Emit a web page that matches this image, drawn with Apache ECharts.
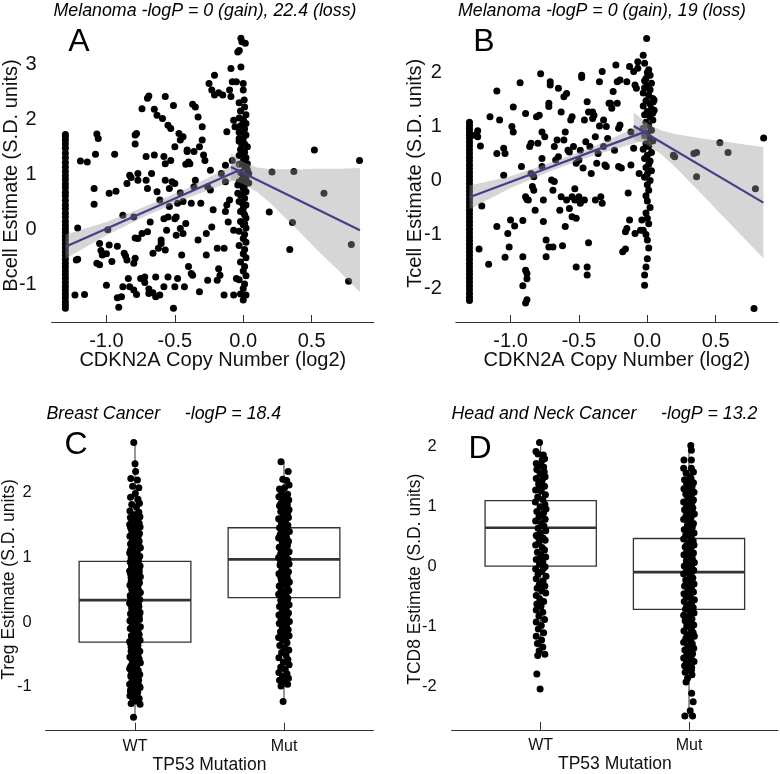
<!DOCTYPE html>
<html><head><meta charset="utf-8">
<script src="https://cdn.jsdelivr.net/npm/echarts@6/dist/echarts.min.js"></script>
<style>html,body{margin:0;padding:0;background:#fff}#c{width:780px;height:774px}</style>
</head><body><div id="c"></div>
<script>
// ---------------- DATA ----------------
const titleA = 'Melanoma -logP = 0 (gain), 22.4 (loss)';
const titleB = 'Melanoma -logP = 0 (gain), 19 (loss)';
const titleC = 'Breast Cancer     -logP = 18.4';
const titleD = 'Head and Neck Cancer     -logP = 13.2';
const panelLetters = ['A', 'B', 'C', 'D'];
const copyNumberTicks = [-1.0, -0.5, 0.0, 0.5];
const bcellTicks = [-1, 0, 1, 2, 3];
const tcellTicks = [-2, -1, 0, 1, 2];
const tregTicks = [-1, 0, 1, 2];
const tcd8Ticks = [-2, -1, 0, 1, 2];
const mutationCategories = ['WT', 'Mut'];

// Panel A: B cell vs CDKN2A copy number  [x, y]
const bcellLossColumnY = [1.72,1.68,1.62,1.55,1.47,1.38,1.30,1.21,1.13,1.05,0.97,0.90,0.82,0.75,0.67,0.60,0.52,0.44,0.37,0.29,0.22,0.14,0.07,0.00,-0.06,-0.13,-0.20,-0.27,-0.34,-0.41,-0.48,-0.55,-0.62,-0.69,-0.76,-0.83,-0.90,-0.97,-1.04,-1.11,-1.18,-1.25,-1.32,-1.38,-1.44];
const bcellScatter = [[-1.19,1.24],[-1.14,1.22],[-1.21,0.02],[-1.22,-0.56],[-1.21,-0.55],[-1.23,-1.20],[-1.16,-1.19],[-1.09,0.45],[-1.08,1.36],[-1.09,0.74],[-1.07,1.73],[-1.06,1.65],[-1.05,-0.26],[-1.04,-0.39],[-1.07,-0.62],[-1.05,-0.65],[-1.03,-0.47],[-1.00,-0.45],[-1.00,-1.02],[-0.99,-0.01],[-0.98,0.65],[-0.98,-0.29],[-0.96,-0.59],[-0.94,1.36],[-0.93,0.69],[-0.92,-0.31],[-0.92,-1.25],[-0.91,-1.42],[-0.89,-1.23],[-0.88,-1.05],[-0.88,0.25],[-0.87,-0.44],[-0.86,-0.49],[-0.85,0.83],[-0.85,-0.56],[-0.84,-0.90],[-0.83,-1.05],[-0.83,0.98],[-0.82,0.94],[-0.80,-1.11],[-0.80,0.22],[-0.80,-0.62],[-0.79,-0.53],[-0.79,1.71],[-0.78,1.74],[-0.79,-0.16],[-0.79,1.55],[-0.78,-1.19],[-0.77,1.01],[-0.77,0.89],[-0.77,-0.17],[-0.75,-0.90],[-0.74,2.19],[-0.74,-0.08],[-0.72,-0.97],[-0.72,-0.87],[-0.71,0.89],[-0.70,0.74],[-0.71,1.32],[-0.70,2.38],[-0.69,2.42],[-0.70,-0.05],[-0.69,-1.09],[-0.69,-1.17],[-0.68,0.13],[-0.67,1.01],[-0.66,-0.44],[-0.66,-1.16],[-0.65,2.18],[-0.65,1.35],[-0.64,-0.87],[-0.64,-1.23],[-0.63,2.07],[-0.63,0.68],[-0.62,-0.35],[-0.61,-1.20],[-0.61,0.53],[-0.60,-0.26],[-0.60,-0.20],[-0.59,2.01],[-0.58,0.19],[-0.58,-1.05],[-0.58,1.32],[-0.57,1.19],[-0.57,2.41],[-0.57,-0.38],[-0.57,0.89],[-0.56,-0.02],[-0.55,-0.87],[-0.55,0.22],[-0.55,1.89],[-0.54,0.74],[-0.54,0.41],[-0.53,1.83],[-0.53,1.25],[-0.52,0.86],[-0.51,-1.44],[-0.51,2.25],[-0.50,0.83],[-0.50,0.19],[-0.50,1.50],[-0.50,-1.05],[-0.49,-0.11],[-0.49,0.22],[-0.48,-0.90],[-0.48,0.47],[-0.47,1.74],[-0.46,1.62],[-0.46,0.01],[-0.46,0.66],[-0.45,-0.47],[-0.44,0.50],[-0.44,-0.08],[-0.44,1.68],[-0.43,-1.05],[-0.42,1.18],[-0.42,0.10],[-0.41,1.44],[-0.41,1.41],[-0.40,-0.68],[-0.40,1.22],[-0.39,1.19],[-0.38,-0.81],[-0.38,0.47],[-0.37,2.27],[-0.37,-0.84],[-0.36,1.41],[-0.36,0.77],[-0.35,2.22],[-0.35,0.89],[-0.33,2.04],[-0.33,-0.20],[-0.32,1.50],[-0.32,-1.14],[-0.31,0.47],[-0.30,1.62],[-0.30,1.86],[-0.29,1.35],[-0.28,1.25],[-0.27,-0.08],[-0.27,-0.47],[-0.26,-0.93],[-0.26,0.77],[-0.25,2.65],[-0.24,0.71],[-0.24,1.07],[-0.23,2.53],[-0.23,0.04],[-0.22,0.35],[-0.21,2.44],[-0.21,2.80],[-0.19,-0.93],[-0.19,-0.35],[-0.18,-0.72],[-0.18,2.48],[-0.17,-0.84],[-0.16,1.01],[-0.15,2.44],[-0.14,-1.20],[-0.14,-0.35],[-0.13,0.32],[-0.13,1.16],[-0.13,0.86],[-0.12,0.44],[-0.12,1.77],[-0.11,0.13],[-0.10,2.53],[-0.10,0.53],[-0.09,2.92],[-0.09,2.41],[-0.08,2.68],[-0.08,1.25],[-0.07,-0.02],[-0.07,1.98],[-0.06,1.86],[-0.07,-1.20],[-0.05,2.68],[-0.05,-0.90],[-0.04,0.65],[-0.04,0.80],[-0.04,3.22],[-0.03,1.65]];
const bcellZeroColumn = [[-0.017,3.47],[-0.010,3.41],[0.015,3.38],[-0.029,3.25],[-0.017,2.95],[0.0,2.65],[0.0,2.53],[0.007,2.35],[-0.03,2.30],[0.01,2.22],[-0.02,2.15],[0.02,2.08],[-0.03,2.02],[0.00,1.97],[0.02,1.92],[-0.02,1.88],[0.01,1.82],[-0.03,1.76],[0.02,1.71],[0.00,1.65],[-0.03,1.60],[0.01,1.55],[0.03,1.50],[-0.02,1.45],[0.01,1.40],[-0.03,1.34],[0.02,1.30],[0.00,1.24],[-0.03,1.18],[0.01,1.13],[0.03,1.08],[-0.02,1.03],[0.00,0.97],[0.02,0.92],[-0.03,0.86],[0.01,0.80],[0.00,0.74],[0.02,0.68],[-0.02,0.62],[0.01,0.56],[-0.03,0.50],[0.02,0.44],[0.00,0.38],[-0.02,0.32],[0.01,0.26],[0.02,0.20],[-0.02,0.14],[0.00,0.08],[0.02,0.02],[-0.03,-0.04],[0.01,-0.10],[0.00,-0.17],[0.02,-0.24],[-0.03,-0.30],[0.01,-0.37],[0.00,-0.45],[0.02,-0.52],[-0.02,-0.60],[0.01,-0.68],[0.00,-0.76],[0.02,-0.85],[-0.03,-0.92],[0.01,-1.00],[0.00,-1.08],[-0.02,-1.18],[0.02,-1.20],[0.00,-1.29],[0.03,1.19],[0.04,0.84],[0.02,1.13],[0.04,1.01],[0.00,2.00],[0.01,1.72],[-0.01,1.52],[0.00,1.36],[0.01,1.20],[-0.01,0.90],[0.01,0.70],[-0.01,0.48],[0.00,0.30],[0.01,0.10]];
const bcellGainScatter = [[0.19,0.31],[0.21,1.04],[0.34,-0.37],[0.36,0.12],[0.37,1.05],[0.52,1.44],[0.59,0.65],[0.77,-0.95],[0.79,-0.28],[0.85,1.25]];
const bcellLossLine = [[-1.30,-0.32],[-0.03,1.07]];
const bcellGainLine = [[-0.09,1.13],[0.853,-0.02]];
const bcellLossBandX = [-1.30,-1.00,-0.70,-0.40,-0.03];
const bcellLossBandLo = [-0.54,-0.11,0.25,0.57,0.92];
const bcellLossBandHi = [-0.10,0.13,0.43,0.75,1.22];
const bcellGainBandX = [-0.09,0.00,0.10,0.20,0.30,0.42,0.54,0.70,0.853];
const bcellGainBandLo = [0.90,0.82,0.68,0.47,0.22,-0.07,-0.38,-0.76,-1.15];
const bcellGainBandHi = [1.38,1.22,1.12,1.09,1.09,1.09,1.10,1.10,1.11];

// Panel B: T cell vs CDKN2A copy number
const tcellLossColumnY = [1.08,1.02,0.96,0.90,0.84,0.78,0.71,0.64,0.57,0.50,0.43,0.36,0.29,0.22,0.15,0.08,0.01,-0.06,-0.13,-0.20,-0.27,-0.34,-0.41,-0.48,-0.55,-0.62,-0.69,-0.76,-0.83,-0.90,-0.97,-1.04,-1.11,-1.18,-1.25,-1.32,-1.39,-1.46,-1.53,-1.60,-1.67,-1.74,-1.81,-1.88,-1.95,-2.02,-2.09,-2.16,-2.22];
const tcellScatter = [[-1.26,0.84],[-1.24,0.92],[-1.24,0.81],[-1.22,0.64],[-1.21,-0.47],[-1.23,-1.27],[-1.16,-1.55],[-1.15,1.18],[-1.10,1.66],[-1.10,0.50],[-1.10,-0.85],[-1.08,1.12],[-1.05,0.10],[-1.05,0.60],[-1.04,0.50],[-1.04,-1.42],[-1.02,-0.98],[-1.01,-1.23],[-1.00,-0.73],[-0.99,1.00],[-0.98,0.90],[-0.98,1.36],[-0.97,-0.84],[-0.93,1.81],[-0.92,0.26],[-0.91,-1.95],[-0.91,-0.74],[-0.89,1.24],[-0.89,-0.30],[-0.88,-0.35],[-0.91,-1.41],[-0.89,-1.66],[-0.88,-1.72],[-0.88,-1.82],[-0.89,-2.27],[-0.88,-2.21],[-0.87,-0.36],[-0.86,0.63],[-0.85,0.69],[-0.85,0.13],[-0.84,-0.11],[-0.83,0.07],[-0.83,-0.18],[-0.82,-0.55],[-0.81,1.18],[-0.80,0.69],[-0.79,1.21],[-0.78,1.98],[-0.77,0.41],[-0.77,0.90],[-0.77,0.26],[-0.76,-0.36],[-0.76,-0.76],[-0.75,0.81],[-0.74,-1.41],[-0.74,-1.10],[-0.72,1.43],[-0.72,1.37],[-0.72,-1.23],[-0.71,1.83],[-0.71,1.77],[-0.70,0.01],[-0.69,-0.18],[-0.69,-1.23],[-0.68,-0.02],[-0.68,0.63],[-0.67,0.38],[-0.66,0.75],[-0.65,0.44],[-0.65,1.71],[-0.64,-0.55],[-0.63,-0.30],[-0.63,1.27],[-0.62,-1.21],[-0.61,1.55],[-0.61,0.75],[-0.60,0.90],[-0.60,-0.85],[-0.59,1.61],[-0.59,-0.36],[-0.58,0.56],[-0.57,-0.52],[-0.57,0.53],[-0.56,1.12],[-0.55,-0.67],[-0.55,1.18],[-0.55,-0.30],[-0.54,0.63],[-0.53,-0.36],[-0.53,-0.15],[-0.52,0.32],[-0.52,-0.70],[-0.52,-1.60],[-0.50,0.38],[-0.50,-0.30],[-0.49,-0.42],[-0.49,0.56],[-0.48,1.95],[-0.48,1.91],[-0.47,0.23],[-0.46,-0.36],[-0.46,1.12],[-0.45,0.72],[-0.44,-1.60],[-0.44,-1.75],[-0.44,1.46],[-0.43,1.27],[-0.43,-1.15],[-0.42,0.63],[-0.41,0.13],[-0.40,1.15],[-0.40,1.27],[-0.39,1.21],[-0.38,-0.36],[-0.38,0.81],[-0.37,0.32],[-0.36,0.50],[-0.35,1.01],[-0.35,1.83],[-0.34,-0.30],[-0.33,-0.42],[-0.33,2.02],[-0.32,1.12],[-0.32,0.63],[-0.31,0.29],[-0.30,1.00],[-0.30,0.26],[-0.29,0.78],[-0.28,1.43],[-0.27,1.43],[-0.26,1.34],[-0.25,1.65],[-0.24,0.56],[-0.23,2.14],[-0.22,1.43],[-0.22,1.83],[-0.21,0.26],[-0.21,0.97],[-0.20,1.86],[-0.20,1.03],[-0.19,0.23],[-0.18,-1.32],[-0.16,-0.95],[-0.16,-1.27],[-0.15,1.83],[-0.15,-0.89],[-0.14,-0.23],[-0.13,2.11],[-0.13,-0.73],[-0.12,0.29],[-0.12,0.90],[-0.10,0.60],[-0.10,2.02],[-0.09,-0.98],[-0.09,1.77],[-0.08,1.71],[-0.07,2.20],[-0.07,2.08],[-0.06,0.13],[-0.05,-0.92],[-0.04,-0.73]];
const tcellZeroColumn = [[-0.03,-0.92],[-0.02,-1.75],[-0.02,-1.94],[-0.005,2.63],[-0.03,2.32],[-0.02,2.17],[0.01,2.05],[-0.01,1.89],[-0.02,1.72],[0.00,2.00],[0.02,1.95],[-0.02,1.85],[0.03,1.80],[0.00,1.76],[0.02,1.68],[-0.03,1.62],[0.01,1.58],[0.04,1.52],[-0.01,1.48],[0.02,1.42],[-0.03,1.38],[0.03,1.33],[0.00,1.28],[-0.02,1.22],[0.02,1.18],[0.04,1.12],[-0.01,1.08],[0.01,1.02],[-0.03,0.97],[0.03,0.93],[0.00,0.88],[-0.02,0.83],[0.02,0.78],[0.04,0.73],[-0.01,0.68],[0.01,0.63],[-0.03,0.58],[0.03,0.52],[0.00,0.47],[-0.02,0.41],[0.02,0.36],[0.01,0.30],[-0.01,0.24],[0.03,0.18],[0.00,0.12],[-0.02,0.06],[0.02,0.00],[0.00,-0.08],[0.01,-0.18],[-0.01,-0.28],[0.00,-0.38],[0.02,-0.50],[-0.01,-0.60],[0.00,-0.70],[0.01,-0.80],[-0.01,-1.00],[0.00,-1.10],[0.01,-1.25],[0.00,-1.45],[-0.01,-1.60],[0.044,1.46],[0.049,1.49],[0.05,1.30],[0.04,1.25]];
const tcellGainScatter = [[0.19,0.47],[0.20,0.44],[0.34,0.50],[0.36,0.52],[0.36,0.07],[0.53,0.70],[0.59,0.52],[0.78,-2.37],[0.79,-0.15],[0.85,0.79]];
const tcellLossLine = [[-1.30,-0.31],[0.00,0.92]];
const tcellGainLine = [[-0.10,1.01],[0.848,-0.41]];
const tcellLossBandX = [-1.30,-1.00,-0.70,-0.40,0.00];
const tcellLossBandLo = [-0.53,-0.14,0.18,0.46,0.76];
const tcellLossBandHi = [-0.09,0.08,0.34,0.62,1.08];
const tcellGainBandX = [-0.10,0.00,0.10,0.20,0.30,0.42,0.54,0.70,0.848];
const tcellGainBandLo = [0.76,0.66,0.49,0.26,0.00,-0.31,-0.63,-1.05,-1.44];
const tcellGainBandHi = [1.26,1.06,0.93,0.86,0.82,0.77,0.73,0.67,0.62];

// Panel C: Treg by TP53 status; box = [position, whiskerLow, Q1, median, Q3, whiskerHigh]
const tregBox = [[1,-1.47,-0.31,0.34,0.94,2.78],[2,-1.23,0.38,0.97,1.46,2.48]];
// jittered points [offset from category, y]
const tregWT = [[-0.008,2.78],[0.000,2.45],[0.004,2.33],[-0.028,2.22],[0.016,2.20],[-0.016,2.10],[0.026,2.08],[0.002,1.99],[-0.030,1.93],[0.020,1.90],[0.030,1.84],[-0.022,1.82],[0.010,1.78],[-0.034,1.72],[0.026,1.70],[-0.004,1.66],[-0.031,1.62],[0.004,1.60],[0.033,1.63],[-0.018,1.56],[0.020,1.55],[-0.036,1.51],[0.006,1.50],[0.034,1.47],[-0.026,1.44],[0.015,1.43],[-0.006,1.38],[0.030,1.37],[-0.034,1.33],[0.010,1.31],[-0.014,1.27],[0.028,1.25],[-0.030,1.21],[0.002,1.20],[0.036,1.15],[-0.020,1.14],[0.016,1.10],[-0.036,1.07],[0.006,1.04],[0.032,1.02],[-0.012,0.98],[0.022,0.95],[-0.032,0.93],[0.000,0.90],[0.034,0.87],[-0.022,0.85],[0.014,0.82],[-0.036,0.79],[0.028,0.77],[-0.006,0.74],[0.036,0.70],[-0.026,0.69],[0.012,0.66],[-0.014,0.62],[0.030,0.61],[-0.034,0.57],[0.004,0.55],[0.022,0.51],[-0.018,0.49],[0.036,0.46],[-0.002,0.43],[-0.032,0.41],[0.018,0.38],[0.032,0.35],[-0.010,0.33],[-0.036,0.29],[0.010,0.27],[0.026,0.24],[-0.022,0.21],[0.000,0.19],[0.034,0.15],[-0.030,0.13],[0.014,0.10],[-0.008,0.07],[0.030,0.04],[-0.034,0.02],[0.008,-0.01],[-0.018,-0.04],[0.036,-0.07],[-0.032,-0.10],[0.016,-0.12],[-0.002,-0.16],[0.028,-0.19],[-0.024,-0.21],[0.006,-0.24],[0.034,-0.28],[-0.036,-0.30],[-0.010,-0.33],[0.020,-0.36],[-0.026,-0.39],[0.002,-0.42],[0.032,-0.45],[-0.016,-0.48],[0.014,-0.51],[-0.034,-0.54],[0.028,-0.57],[-0.002,-0.60],[0.036,-0.63],[-0.022,-0.66],[0.010,-0.69],[-0.036,-0.72],[0.022,-0.75],[-0.008,-0.78],[0.032,-0.81],[-0.028,-0.84],[0.004,-0.87],[0.024,-0.90],[-0.018,-0.93],[-0.036,-0.96],[0.012,-0.98],[0.034,-1.01],[-0.010,-1.04],[-0.030,-1.07],[0.018,-1.09],[0.000,-1.12],[-0.020,-1.16],[0.028,-1.18],[0.006,-1.22],[-0.026,-1.26],[0.034,-1.27],[0.014,-1.20],[-0.034,-1.14],[-0.010,-1.47]];
const tregWTDense = [[-0.022,1.59],[0.016,1.59],[-0.004,1.53],[0.028,1.53],[-0.030,1.47],[0.008,1.47],[0.012,1.41],[-0.016,1.41],[0.024,1.35],[-0.026,1.35],[-0.010,1.29],[0.020,1.29],[-0.022,1.23],[0.016,1.23],[-0.004,1.17],[0.028,1.17],[-0.030,1.11],[0.008,1.11],[0.012,1.05],[-0.016,1.05],[0.024,0.99],[-0.026,0.99],[-0.010,0.93],[0.020,0.93],[-0.022,0.87],[0.016,0.87],[-0.004,0.81],[0.028,0.81],[-0.030,0.75],[0.008,0.75],[0.012,0.69],[-0.016,0.69],[0.024,0.63],[-0.026,0.63],[-0.010,0.57],[0.020,0.57],[-0.022,0.51],[0.016,0.51],[-0.004,0.45],[0.028,0.45],[-0.030,0.39],[0.008,0.39],[0.012,0.33],[-0.016,0.33],[0.024,0.27],[-0.026,0.27],[-0.010,0.21],[0.020,0.21],[-0.022,0.15],[0.016,0.15],[-0.004,0.09],[0.028,0.09],[-0.030,0.03],[0.008,0.03],[0.012,-0.03],[-0.016,-0.03],[0.024,-0.09],[-0.026,-0.09],[-0.010,-0.15],[0.020,-0.15],[-0.022,-0.21],[0.016,-0.21],[-0.004,-0.27],[0.028,-0.27],[-0.030,-0.33],[0.008,-0.33],[0.012,-0.39],[-0.016,-0.39],[0.024,-0.45],[-0.026,-0.45],[-0.010,-0.51],[0.020,-0.51],[-0.022,-0.57],[0.016,-0.57],[-0.004,-0.63],[0.028,-0.63],[-0.030,-0.69],[0.008,-0.69],[0.012,-0.75],[-0.016,-0.75],[0.024,-0.81],[-0.026,-0.81],[-0.010,-0.87],[0.020,-0.87],[-0.022,-0.93],[0.016,-0.93],[-0.004,-0.99],[0.028,-0.99],[-0.030,-1.05],[0.008,-1.05],[0.012,-1.11],[-0.016,-1.11]];
const tregMut = [[-0.020,2.48],[0.028,2.33],[-0.008,2.21],[0.018,2.19],[0.034,2.12],[-0.030,2.06],[0.004,2.08],[-0.016,2.00],[0.024,1.98],[-0.034,1.94],[0.010,1.92],[0.032,1.89],[-0.012,1.86],[0.022,1.82],[-0.030,1.80],[0.002,1.77],[0.034,1.74],[-0.022,1.71],[0.016,1.69],[-0.006,1.64],[0.030,1.62],[-0.036,1.60],[0.008,1.56],[-0.016,1.52],[0.026,1.50],[-0.030,1.46],[0.002,1.44],[0.036,1.40],[-0.020,1.37],[0.014,1.34],[-0.036,1.30],[0.004,1.28],[0.030,1.25],[-0.010,1.21],[0.022,1.18],[-0.032,1.16],[0.000,1.12],[0.034,1.09],[-0.022,1.06],[0.014,1.03],[-0.036,1.00],[0.028,0.97],[-0.006,0.94],[0.034,0.90],[-0.026,0.88],[0.012,0.84],[-0.014,0.80],[0.030,0.78],[-0.034,0.75],[0.004,0.72],[0.022,0.68],[-0.018,0.65],[0.036,0.62],[-0.002,0.59],[-0.032,0.56],[0.018,0.53],[0.032,0.49],[-0.010,0.46],[-0.036,0.43],[0.010,0.40],[0.026,0.37],[-0.022,0.34],[0.000,0.30],[0.034,0.27],[-0.030,0.24],[0.014,0.21],[-0.008,0.17],[0.030,0.14],[-0.034,0.11],[0.008,0.08],[-0.018,0.04],[0.036,0.01],[-0.032,-0.02],[0.016,-0.05],[-0.002,-0.08],[0.028,-0.12],[-0.024,-0.15],[0.006,-0.18],[0.034,-0.21],[-0.036,-0.24],[-0.010,-0.28],[0.020,-0.32],[-0.028,-0.36],[0.004,-0.40],[0.032,-0.43],[-0.016,-0.47],[0.014,-0.51],[-0.034,-0.55],[0.026,-0.58],[-0.004,-0.62],[0.034,-0.66],[-0.022,-0.70],[0.008,-0.73],[-0.034,-0.78],[0.020,-0.80],[-0.010,-0.84],[0.030,-0.87],[-0.030,-0.90],[0.004,-0.92],[0.024,-0.96],[-0.020,-0.99],[-0.006,-1.23]];
const tregMutDense = [[0.010,1.91],[-0.020,1.84],[0.020,1.78],[-0.012,1.72],[0.024,1.66],[-0.024,1.58],[0.012,1.53],[-0.008,1.47],[0.020,1.42],[-0.026,1.35],[0.016,1.31],[-0.012,1.24],[0.022,1.20],[-0.020,1.13],[0.012,1.07],[-0.016,1.01],[0.018,0.96],[-0.024,0.91],[0.008,0.86],[-0.010,0.77],[0.020,0.73],[-0.022,0.70],[0.012,0.63],[-0.016,0.58],[0.020,0.55],[-0.020,0.48],[0.014,0.44],[-0.012,0.38],[0.020,0.32],[-0.018,0.27],[0.012,0.22],[-0.014,0.15],[0.020,0.10],[-0.020,0.06],[0.012,-0.01],[-0.012,-0.07],[0.018,-0.10],[-0.016,-0.18],[0.014,-0.24]];

// Panel D: CD8 T cells by TP53 status
const tcd8Box = [[1,-1.48,0.01,0.65,1.10,2.07],[2,-2.49,-0.71,-0.09,0.47,2.02]];
const tcd8WT = [[-0.008,2.07],[-0.032,1.92],[-0.018,1.88],[0.018,1.86],[0.026,1.80],[0.010,1.78],[-0.030,1.72],[0.000,1.70],[0.020,1.66],[-0.026,1.62],[0.024,1.58],[-0.004,1.55],[0.030,1.50],[-0.030,1.47],[0.010,1.44],[-0.014,1.38],[0.026,1.34],[-0.010,1.30],[-0.034,1.28],[0.004,1.26],[0.032,1.20],[-0.020,1.16],[0.014,1.12],[-0.036,1.08],[0.028,1.04],[-0.004,1.00],[0.036,0.96],[-0.026,0.92],[0.020,0.90],[0.012,0.88],[-0.012,0.83],[0.030,0.79],[-0.034,0.76],[0.004,0.72],[0.022,0.68],[-0.018,0.64],[0.034,0.60],[-0.002,0.56],[-0.030,0.52],[-0.020,0.50],[0.016,0.48],[0.030,0.44],[-0.012,0.40],[-0.034,0.36],[0.010,0.32],[0.026,0.28],[-0.022,0.24],[0.000,0.20],[0.010,0.15],[0.034,0.16],[-0.030,0.12],[0.014,0.08],[-0.008,0.04],[0.030,0.00],[0.020,-0.02],[-0.034,-0.04],[0.008,-0.08],[-0.018,-0.12],[0.036,-0.16],[-0.030,-0.20],[0.016,-0.24],[-0.002,-0.28],[-0.010,-0.30],[0.028,-0.32],[-0.024,-0.36],[0.006,-0.40],[0.034,-0.44],[-0.030,-0.48],[-0.006,-0.54],[0.020,-0.58],[-0.026,-0.62],[0.002,-0.66],[-0.030,-0.72],[0.014,-0.76],[-0.012,-0.82],[0.026,-0.88],[-0.030,-0.92],[0.004,-0.98],[-0.016,-1.04],[0.020,-1.10],[-0.030,-1.16],[0.006,-1.22],[-0.022,-1.28],[0.014,-1.34],[-0.010,-1.40],[0.028,-1.46],[-0.020,-1.48],[-0.026,-1.79],[-0.004,-2.04]];
const tcd8Mut = [[0.012,2.02],[0.016,1.94],[-0.034,1.78],[0.016,1.78],[-0.036,1.64],[0.016,1.64],[0.006,1.50],[-0.020,1.56],[0.030,1.58],[-0.030,1.45],[0.004,1.43],[0.030,1.40],[-0.012,1.36],[0.020,1.33],[-0.034,1.30],[0.000,1.27],[0.034,1.24],[-0.022,1.21],[0.014,1.18],[-0.006,1.14],[0.030,1.11],[-0.036,1.08],[0.008,1.05],[-0.016,1.01],[0.026,0.98],[-0.030,0.95],[0.002,0.92],[0.036,0.88],[-0.020,0.85],[0.014,0.82],[-0.036,0.79],[0.004,0.75],[0.030,0.72],[-0.010,0.69],[0.022,0.66],[-0.032,0.62],[0.000,0.59],[0.034,0.56],[-0.022,0.53],[0.014,0.49],[-0.036,0.46],[0.028,0.43],[-0.006,0.40],[0.034,0.36],[-0.026,0.33],[0.012,0.30],[-0.014,0.27],[0.030,0.23],[-0.034,0.20],[0.004,0.17],[0.022,0.14],[-0.018,0.10],[0.036,0.07],[-0.002,0.04],[-0.032,0.01],[0.018,-0.03],[0.032,-0.06],[-0.010,-0.09],[-0.036,-0.12],[0.010,-0.16],[0.026,-0.19],[-0.022,-0.22],[0.000,-0.25],[0.034,-0.29],[-0.030,-0.32],[0.014,-0.35],[-0.008,-0.38],[0.030,-0.42],[-0.034,-0.45],[0.008,-0.48],[-0.018,-0.51],[0.036,-0.55],[-0.032,-0.58],[0.016,-0.61],[-0.002,-0.64],[0.028,-0.68],[-0.024,-0.71],[0.006,-0.74],[0.034,-0.77],[-0.036,-0.81],[-0.010,-0.84],[0.020,-0.87],[-0.026,-0.90],[0.002,-0.94],[0.032,-0.97],[-0.016,-1.00],[0.014,-1.03],[-0.034,-1.07],[0.028,-1.10],[-0.002,-1.13],[0.036,-1.16],[-0.022,-1.20],[0.010,-1.23],[-0.036,-1.26],[0.022,-1.29],[-0.008,-1.32],[0.032,-1.36],[-0.028,-1.39],[0.004,-1.42],[0.024,-1.45],[-0.018,-1.49],[-0.036,-1.52],[0.012,-1.55],[0.034,-1.58],[-0.010,-1.62],[-0.030,-1.65],[0.018,-1.68],[0.000,-1.71],[-0.026,-1.76],[0.020,-1.80],[-0.010,-1.86],[-0.020,-1.92],[0.018,-2.11],[0.028,-2.25],[-0.028,-2.49],[0.024,-2.49],[0.008,-2.40]];
const tcd8MutDense = [[0.014,1.47],[-0.016,1.38],[0.018,1.29],[-0.012,1.19],[0.020,1.07],[-0.018,0.97],[0.016,0.86],[-0.014,0.77],[0.018,0.64],[-0.016,0.56],[0.014,0.45],[-0.018,0.35],[0.016,0.25],[-0.014,0.15],[0.018,0.03],[-0.016,-0.06],[0.014,-0.14],[-0.018,-0.27],[0.016,-0.37],[-0.014,-0.47],[0.018,-0.57],[-0.016,-0.66],[0.014,-0.79],[-0.018,-0.92],[0.016,-1.05],[-0.014,-1.15],[0.018,-1.27],[-0.016,-1.40],[0.014,-1.50],[-0.018,-1.60],[0.016,-1.73]];

// ---------------- CHART ----------------
const FONT = 'Liberation Sans';
const INK = '#111';
const LINE_COLOR = '#483D8B';
const BAND_FILL = 'rgba(153,153,153,0.4)';

const chart = echarts.init(document.getElementById('c'), null, {renderer: 'canvas'});

function titleItem(text, left, top, align, size, italic) {
  return {text: text, left: left, top: top, textAlign: align, padding: 0,
    textStyle: {fontFamily: FONT, fontSize: size, fontWeight: 'normal', fontStyle: italic ? 'italic' : 'normal', color: '#000'}};
}
function columnPoints(x, ys) { return ys.map(function (y) { return [x, y]; }); }
function jitterPoints(cat, arr) { return arr.map(function (p) { return [cat + p[0], p[1]]; }); }

function bandSeries(gi, xs, lo, hi) {
  return {
    type: 'custom', xAxisIndex: gi, yAxisIndex: gi, z: 3, silent: true,
    data: xs.map(function (x, i) { return [x, lo[i], hi[i]]; }),
    encode: {x: 0, y: [1, 2]},
    renderItem: function (params, api) {
      if (params.dataIndex !== 0) return {type: 'group', children: []};
      var pts = [];
      for (var i = 0; i < xs.length; i++) pts.push(api.coord([xs[i], hi[i]]));
      for (var j = xs.length - 1; j >= 0; j--) pts.push(api.coord([xs[j], lo[j]]));
      return {type: 'polygon', shape: {points: pts}, style: {fill: BAND_FILL}};
    }
  };
}
function lineSeries(gi, data) {
  return {type: 'line', xAxisIndex: gi, yAxisIndex: gi, data: data, z: 4, symbol: 'none', silent: true,
    lineStyle: {color: LINE_COLOR, width: 2.2}};
}
function scatterSeries(gi, data) {
  return {type: 'scatter', xAxisIndex: gi, yAxisIndex: gi, data: data, z: 2, symbol: 'circle', symbolSize: 7,
    silent: true, itemStyle: {color: '#000', opacity: 1}};
}
function boxSeries(gi, data) {
  return {
    type: 'custom', xAxisIndex: gi, yAxisIndex: gi, z: 1, silent: true, data: data,
    encode: {x: 0, y: [1, 2, 3, 4, 5]},
    renderItem: function (params, api) {
      var x = api.value(0), lo = api.value(1), q1 = api.value(2), md = api.value(3), q3 = api.value(4), hi = api.value(5);
      var w = 0.375, c = '#333';
      var tl = api.coord([x - w, q3]), br = api.coord([x + w, q1]);
      var ml = api.coord([x - w, md]), mr = api.coord([x + w, md]);
      var top = api.coord([x, hi]), bot = api.coord([x, lo]);
      return {type: 'group', children: [
        {type: 'line', shape: {x1: top[0], y1: top[1], x2: top[0], y2: tl[1]}, style: {stroke: c, lineWidth: 1}},
        {type: 'line', shape: {x1: bot[0], y1: bot[1], x2: bot[0], y2: br[1]}, style: {stroke: c, lineWidth: 1}},
        {type: 'rect', shape: {x: tl[0], y: tl[1], width: br[0] - tl[0], height: br[1] - tl[1]}, style: {fill: '#fff', stroke: c, lineWidth: 1.3}},
        {type: 'line', shape: {x1: ml[0], y1: ml[1], x2: mr[0], y2: mr[1]}, style: {stroke: c, lineWidth: 2.6}}
      ]};
    }
  };
}
function xAxisCN(gi) {
  return {gridIndex: gi, type: 'value', min: -1.40, max: 0.955,
    axisLine: {show: true, onZero: false, lineStyle: {color: '#333', width: 1}},
    axisTick: {show: true, inside: true, length: 7, customValues: copyNumberTicks, lineStyle: {color: '#333', width: 1}},
    axisLabel: {customValues: copyNumberTicks, formatter: function (v) { return v.toFixed(1); }, fontFamily: FONT, fontSize: 20, color: INK, margin: 9},
    splitLine: {show: false},
    name: 'CDKN2A Copy Number (log2)', nameLocation: 'middle', nameGap: 28, nameMoveOverlap: false,
    nameTextStyle: {fontFamily: FONT, fontSize: 20, color: INK}};
}
function xAxisMut(gi) {
  return {gridIndex: gi, type: 'value', min: 0.4, max: 2.6,
    axisLine: {show: true, onZero: false, lineStyle: {color: '#333', width: 1}},
    axisTick: {show: true, inside: true, length: 8, customValues: [1, 2], lineStyle: {color: '#333', width: 1}},
    axisLabel: {customValues: [1, 2], formatter: function (v) { return mutationCategories[Math.round(v) - 1]; }, fontFamily: FONT, fontSize: 16, color: INK, margin: 8},
    splitLine: {show: false},
    name: 'TP53 Mutation', nameLocation: 'middle', nameGap: 25, nameMoveOverlap: false,
    nameTextStyle: {fontFamily: FONT, fontSize: 17.5, color: INK}};
}
function yAxisV(gi, min, max, ticks, name, fs, nfs, margin, gap) {
  return {gridIndex: gi, type: 'value', min: min, max: max,
    axisLine: {show: false}, axisTick: {show: false}, splitLine: {show: false},
    axisLabel: {customValues: ticks, fontFamily: FONT, fontSize: fs, color: INK, margin: margin},
    name: name, nameLocation: 'middle', nameGap: gap, nameMoveOverlap: false,
    nameTextStyle: {fontFamily: FONT, fontSize: nfs, color: INK}};
}

const option = {
  animation: false,
  backgroundColor: '#fff',
  title: [
    titleItem(titleA, 205, 2, 'center', 17.8, true),
    titleItem(titleB, 602, 2, 'center', 17.8, true),
    titleItem(titleC, 46.5, 405, 'left', 17.8, true),
    titleItem(titleD, 451.5, 405, 'left', 17.8, true),
    titleItem(panelLetters[0], 79, 26, 'center', 32, false),
    titleItem(panelLetters[1], 484, 26, 'center', 32, false),
    titleItem(panelLetters[2], 76, 429, 'center', 32, false),
    titleItem(panelLetters[3], 480, 433, 'center', 32, false)
  ],
  grid: [
    {left: 51.7, top: 29, width: 322.2, height: 293, outerBoundsMode: 'none', containLabel: false},
    {left: 455.8, top: 24.5, width: 322.2, height: 297.5, outerBoundsMode: 'none', containLabel: false},
    {left: 45.6, top: 428.2, width: 327.8, height: 302.5, outerBoundsMode: 'none', containLabel: false},
    {left: 451.7, top: 428.7, width: 326.3, height: 301.2, outerBoundsMode: 'none', containLabel: false}
  ],
  xAxis: [xAxisCN(0), xAxisCN(1), xAxisMut(2), xAxisMut(3)],
  yAxis: [
    yAxisV(0, -1.69, 3.64, bcellTicks, 'Bcell Estimate (S.D. units)', 20, 20, 15, 30),
    yAxisV(1, -2.62, 2.89, tcellTicks, 'Tcell Estimate (S.D. units)', 20, 20, 14, 30),
    yAxisV(2, -1.68, 3.0, tregTicks, 'Treg Estimate (S.D. units)', 16.5, 17.5, 14, 27),
    yAxisV(3, -2.72, 2.30, tcd8Ticks, 'TCD8 Estimate (S.D. units)', 16.5, 17.5, 15, 28)
  ],
  series: [
    scatterSeries(0, columnPoints(-1.30, bcellLossColumnY).concat(bcellScatter, bcellZeroColumn, bcellGainScatter)),
    bandSeries(0, bcellLossBandX, bcellLossBandLo, bcellLossBandHi),
    bandSeries(0, bcellGainBandX, bcellGainBandLo, bcellGainBandHi),
    lineSeries(0, bcellLossLine),
    lineSeries(0, bcellGainLine),

    scatterSeries(1, columnPoints(-1.30, tcellLossColumnY).concat(tcellScatter, tcellZeroColumn, tcellGainScatter)),
    bandSeries(1, tcellLossBandX, tcellLossBandLo, tcellLossBandHi),
    bandSeries(1, tcellGainBandX, tcellGainBandLo, tcellGainBandHi),
    lineSeries(1, tcellLossLine),
    lineSeries(1, tcellGainLine),

    boxSeries(2, tregBox),
    scatterSeries(2, jitterPoints(1, tregWT).concat(jitterPoints(1, tregWTDense), jitterPoints(2, tregMut), jitterPoints(2, tregMutDense))),

    boxSeries(3, tcd8Box),
    scatterSeries(3, jitterPoints(1, tcd8WT).concat(jitterPoints(2, tcd8Mut), jitterPoints(2, tcd8MutDense)))
  ]
};
chart.setOption(option);
</script></body></html>
